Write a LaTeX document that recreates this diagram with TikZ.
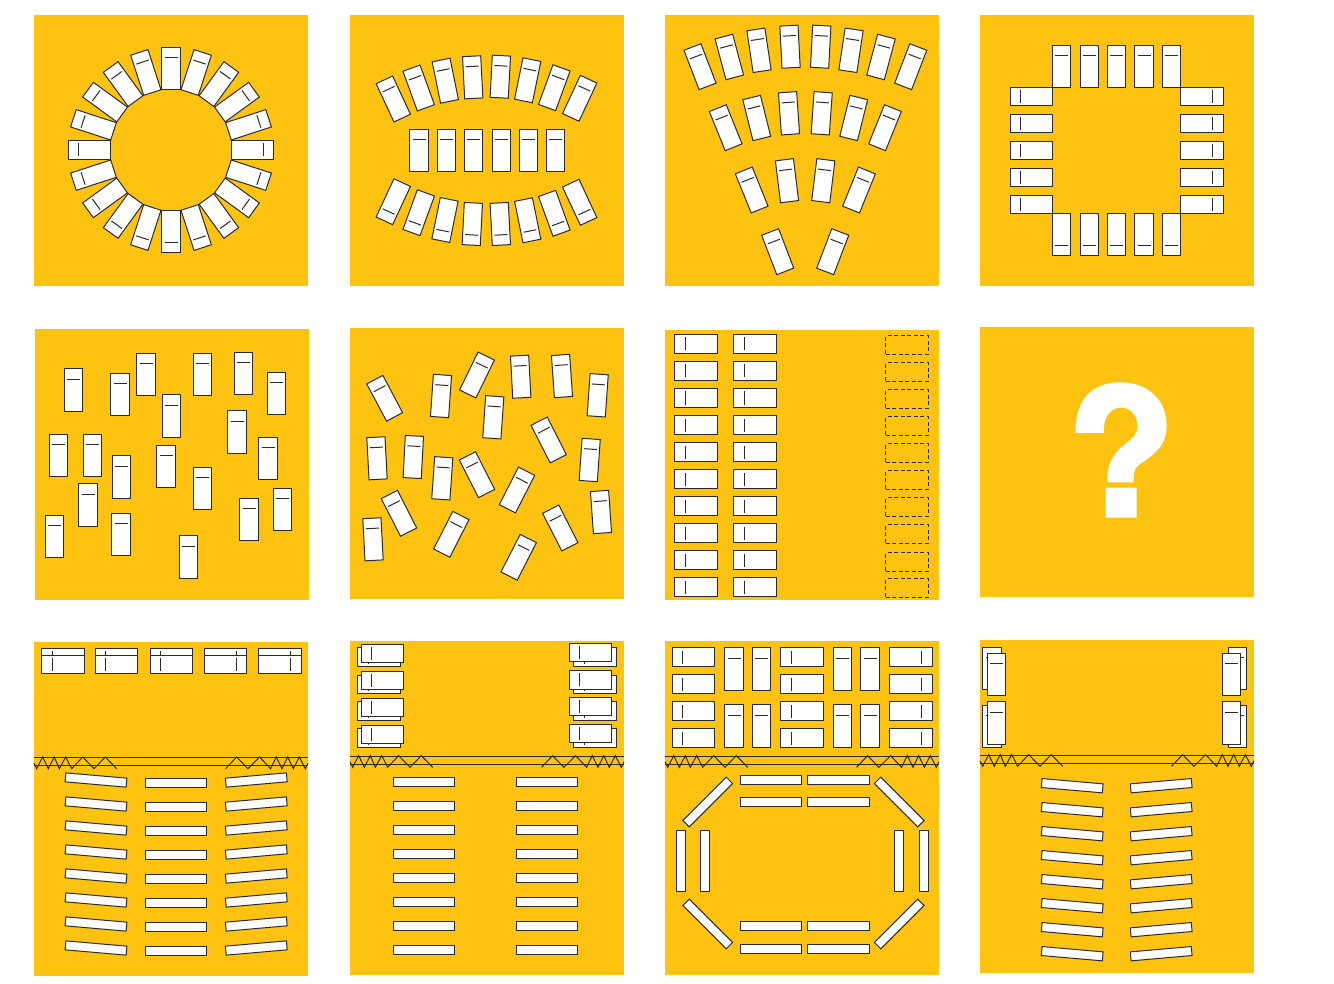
\documentclass[tikz,border=0pt]{standalone}
\usepackage{fontspec}
\usetikzlibrary{positioning}
\newfontfamily\markfont[BoldFeatures={FakeBold=2.5}]{TeX Gyre Heros}
\definecolor{roomyellow}{HTML}{FEC211}
\definecolor{inkline}{HTML}{2B2B2B}
\tikzset{
  room/.style={fill=roomyellow, draw=none},
  desk/.style={draw=inkline, fill=white, line width=1pt},
  wire/.style={draw=inkline, line width=1pt},
  seat/.pic={
    \draw[desk] (-9.1,-21.1) rectangle (9.1,21.1);
    \draw[wire] (-6.5,-10.9) -- (6.5,-10.9);
  },
  gapseat/.pic={
    \draw[wire, dash pattern=on 4pt off 2.5pt] (-9.2,-21.2) rectangle (9.2,21.2);
  },
  bench/.pic={
    \draw[desk] (-30.6,-4.5) rectangle (30.6,4.5);
  }
}
% the two lines and the curtains of a stage
\newcommand{\stagefront}[3]{
  \draw[wire] (#1,#3) -- (#2,#3);
  \draw[wire] (#1,#3+7.8) -- (#2,#3+7.8);
  \draw[wire] (#1,#3+5.5) -- ++(2.7,5.5) -- ++(6,-11.7) -- ++(5.6,11.7) -- ++(6,-11.7) -- ++(5,11.7) -- ++(6.4,-11.7) -- ++(6,11.7) -- ++(11,-11.7) -- ++(11.3,11.7) -- ++(11.3,-11.7) -- ++(11.4,11.7);
  \draw[wire] (#2,#3+5.5) -- ++(-2.7,5.5) -- ++(-6,-11.7) -- ++(-6,11.7) -- ++(-5.6,-11.7) -- ++(-5.7,11.7) -- ++(-5.7,-11.7) -- ++(-5.7,11.7) -- ++(-11,-11.7) -- ++(-11.7,11.7) -- ++(-11.3,-11.7) -- ++(-11,11.7);
}

\begin{document}
\begin{tikzpicture}[x=1pt, y=-1pt]
  \useasboundingbox (0,0) rectangle (1334,984);
  % rooms
  \foreach \xa/\ya/\xb/\yb in {34/15/308/286, 350/15/624/286, 665/15/939/286, 980/15/1254/286,
      35/329/309/600, 350/328/624/599, 665/330/939/600, 980/327/1254/597,
      34/642/308/976, 350/641/624/975, 665/641/939/975, 980/640/1254/973}
    \fill[room] (\xa,\ya) rectangle (\xb,\yb);

  % circle
  \foreach \a in {0,18,...,342}
    \pic[rotate=\a] at ({171-81.5*sin(\a)},{150-81.5*cos(\a)}) {seat};

  % arcs and middle row
  \foreach \x/\y/\a in {393.3/99/25, 418.7/88/20, 445.3/80.7/11.5, 472.7/77.3/3,
      500.3/76.7/-3, 527.7/80.3/-11.5, 554.3/87.7/-20, 579.7/98.3/-25,
      393.3/201.7/155, 418.7/212.7/160, 445/220/168.5, 472.3/224/177,
      500.3/224/183, 527.7/220.3/191.5, 554.3/213.3/200, 579.7/202.3/205}
    \pic[rotate=\a] at (\x,\y) {seat};
  \foreach \x in {419,446.3,473.7,501.3,528.3,555.7}
    \pic at (\x,150.3) {seat};

  % fan
  \foreach \x/\y/\a in {700/66.7/21, 729.3/57/15, 759/50.3/8.5, 790/46.7/3,
      820.7/46.7/-3, 851/50.3/-8.5, 881/57/-15, 910.7/66.7/-21,
      725.7/127.7/22, 756.7/118/14, 789/113.3/4, 821.7/113.3/-4, 853.7/118/-14, 885/127.7/-22,
      751.7/190/22, 787/180.7/7, 823.3/180.7/-7, 859/190/-22,
      777.7/251.7/21, 832.7/251.7/-21}
    \pic[rotate=\a] at (\x,\y) {seat};

  % square
  \foreach \x in {1061.8,1089.3,1116.5,1144,1171.2} {
    \pic at (\x,66.5) {seat};
    \pic[rotate=180] at (\x,234.8) {seat};
  }
  \foreach \y in {96.7,123.7,150.8,177.7,204.7} {
    \pic[rotate=90] at (1031.7,\y) {seat};
    \pic[rotate=-90] at (1202,\y) {seat};
  }

  % loose upright
  \foreach \x/\y in {73.3/390, 120/394.3, 146/374.7, 171.7/416, 202.3/374.7, 243.7/373.3, 276.3/393.7,
      237/432, 58.7/455.3, 92.3/455.3, 121.3/477, 166/466.7, 202.3/488.3, 268/458.3, 88/505,
      121/534.7, 54.7/536.7, 188.3/557, 249/519.7, 282.3/509.3}
    \pic at (\x,\y) {seat};

  % loose turned
  \foreach \x/\y/\a in {384.7/398.3/28, 441/396/-4, 477/375/-26, 520.7/376.7/3, 562/376/4,
      597.7/395.3/-4, 493.3/417.3/-4, 548.7/440/27, 377/458.3/3, 413.3/457/-3, 442.3/478.3/-4,
      477/474.7/27, 589.7/460/-4, 517/490/-27, 399/513.3/27, 451.3/534.3/-27, 560.3/528/27,
      373/539.3/3, 601/512/4, 518.7/557.3/-27}
    \pic[rotate=\a] at (\x,\y) {seat};

  % columns
  \foreach \y in {344,371,398,425,452,479,506,533,560,587} {
    \pic[rotate=90] at (696,\y) {seat};
    \pic[rotate=90] at (755,\y) {seat};
  }
  \foreach \y in {345,372,399,426,453,480,507,534,562,588}
    \pic[rotate=90] at (907,\y) {gapseat};

  % unknown
  \node[text=white, inner sep=0pt, font={\markfont\bfseries\fontsize{176}{176}\selectfont}] (mark) at (1121,450) {?};

  % stage one
  \stagefront{34}{308}{757.7}
  \foreach \x/\a in {63/90, 116.7/90, 171.7/90, 225.3/-90, 280/-90} {
    \pic[rotate=\a] at (\x,657.3) {seat};
    \pic[rotate=\a] at (\x,664.3) {seat};
  }
  \foreach \k in {0,...,7} {
    \pic[rotate=-5] at (96,780+24*\k) {bench};
    \pic at (175.7,783+24*\k) {bench};
    \pic[rotate=5] at (256.3,780+24*\k) {bench};
  }

  % stage two
  \stagefront{350}{624}{756.3}
  \foreach \y in {653.5,680.7,707.5,734.5} {
    \pic[rotate=90] at (379,\y+3.5) {seat};
    \pic[rotate=90] at (382.8,\y) {seat};
    \pic[rotate=90] at (595,\y+3.5) {seat};
    \pic[rotate=90] at (590.8,\y-0.8) {seat};
  }
  \foreach \k in {0,...,7} {
    \pic at (424.2,781.5+24*\k) {bench};
    \pic at (547,781.5+24*\k) {bench};
  }

  % stage three
  \stagefront{665}{939}{756.3}
  \foreach \y in {657,684,711,738} {
    \pic[rotate=90] at (693.7,\y) {seat};
    \pic[rotate=90] at (802,\y) {seat};
    \pic[rotate=-90] at (911,\y) {seat};
  }
  \foreach \x in {734,761.7,842.7,870} {
    \pic at (\x,669) {seat};
    \pic at (\x,726) {seat};
  }
  \foreach \x in {771,838.5}
    \foreach \y in {780,802,925.7,948.7}
      \pic at (\x,\y) {bench};
  \foreach \x in {680.8,704.5,899.2,923.7}
    \pic[rotate=90] at (\x,861.3) {bench};
  \foreach \x/\y/\a in {707.7/802/45, 899.3/802/-45, 707.7/924/-45, 899.3/924/45}
    \pic[rotate=\a] at (\x,\y) {bench};

  % stage four
  \stagefront{980}{1254}{755.3}
  \foreach \y in {668.3,726.7} {
    \pic at (992,\y) {seat};
    \pic at (1237.7,\y) {seat};
  }
  \foreach \y in {674.5,723} {
    \pic at (996.8,\y) {seat};
    \pic at (1231.3,\y) {seat};
  }
  \foreach \k in {0,...,7} {
    \pic[rotate=-5] at (1072.2,785.7+24*\k) {bench};
    \pic[rotate=5] at (1161.2,785.7+24*\k) {bench};
  }
\end{tikzpicture}
\end{document}
